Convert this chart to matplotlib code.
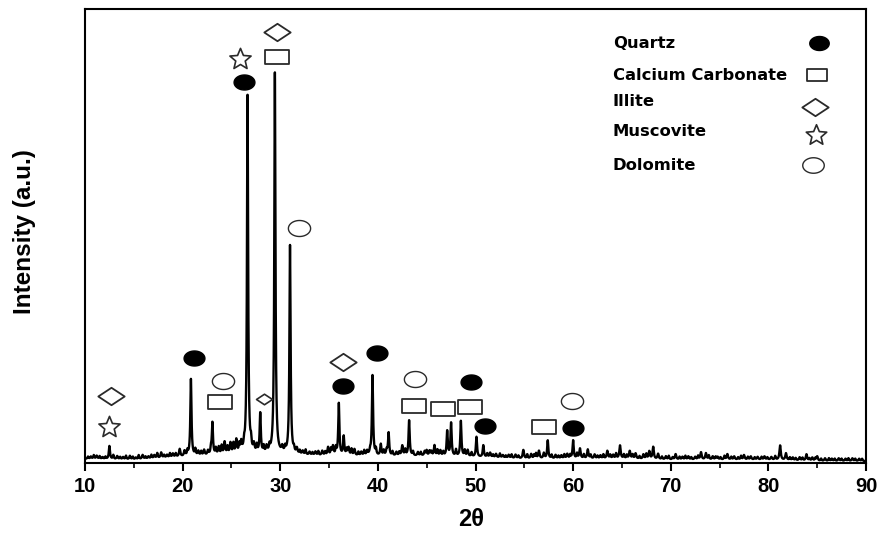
import numpy as np
import matplotlib
matplotlib.use("Agg")
import matplotlib.pyplot as plt
from matplotlib.path import Path

# ---------------- data ----------------
baseline_x = [10, 15, 20, 25, 30, 35, 40, 45, 50, 55, 60, 65, 70, 75, 80, 85, 90]
baseline_y = [0.9, 0.7, 1.3, 1.8, 1.8, 1.5, 1.5, 1.5, 1.3, 0.9, 0.9, 0.9, 0.7, 0.7, 0.7, 0.4, 0.4]

major_pos = [12.5, 20.85, 23.05, 26.65, 27.95, 29.45, 31.0, 36.0, 36.5, 39.45,
             40.3, 41.1, 43.2, 45.8, 47.1, 47.5, 48.5, 50.1, 50.8, 57.4, 60.0]
major_h = [2.9, 17.0, 7.1, 79.0, 8.8, 84.0, 46.0, 11.5, 4.2, 17.7,
           2.5, 5.0, 7.8, 2.3, 5.5, 7.3, 7.8, 4.4, 2.6, 4.0, 4.0]

minor_pos = [10.6, 11.2, 11.8, 13.3, 13.9, 14.6, 15.2, 15.9, 16.5, 17.1, 17.8, 18.4, 19.0,
             19.7, 20.2, 21.6, 22.2, 22.6, 23.7, 24.3, 24.9, 25.5, 26.0, 27.3, 28.6, 30.2,
             31.7, 32.3, 33.0, 33.6, 34.3, 34.9, 35.4, 37.0, 37.6, 38.3, 38.9, 40.9, 41.9,
             42.5, 44.1, 44.8, 45.3, 46.4, 49.2, 51.5, 52.1, 52.8, 53.4, 54.1, 54.9, 55.7,
             56.5, 57.0, 58.2, 58.8, 59.4, 60.7, 61.5, 62.2, 62.8, 63.5, 64.1, 64.8, 65.8,
             66.4, 67.2, 67.8, 68.2, 68.7, 69.5, 70.5, 71.2, 71.8, 72.5, 73.1, 73.6, 74.3,
             74.8, 75.8, 76.5, 77.5, 78.2, 78.9, 79.6, 80.3, 81.2, 81.8, 82.5, 83.2, 83.9,
             84.5, 85.0, 85.8, 86.5, 87.2, 87.9, 88.6, 89.3]
minor_h = [0.5, 0.7, 0.4, 0.7, 0.5, 0.8, 0.4, 0.9, 0.5, 0.7, 1.2, 0.6, 0.8,
           1.7, 1.2, 1.0, 1.2, 1.0, 1.7, 2.7, 2.4, 3.0, 2.2, 1.7, 1.4, 1.2,
           1.2, 0.8, 0.7, 0.8, 1.0, 1.8, 2.0, 1.7, 1.4, 0.8, 1.0, 1.2, 0.8,
           2.2, 0.8, 1.0, 1.1, 1.2, 1.4, 1.0, 0.8, 0.6, 0.7, 0.8, 1.9, 1.0,
           1.7, 1.2, 0.8, 0.7, 1.0, 2.2, 2.0, 0.9, 0.7, 1.7, 0.8, 2.9, 1.7,
           1.2, 1.0, 1.7, 2.7, 1.2, 0.7, 1.2, 0.6, 0.7, 0.6, 1.6, 1.4, 0.7,
           0.6, 1.2, 0.7, 1.0, 0.7, 0.6, 0.7, 0.6, 3.2, 1.5, 0.6, 0.7, 1.4,
           0.7, 1.0, 0.6, 0.5, 0.6, 0.5, 0.6, 0.5]

# small wiggles of the noisy background
wiggle_pos = [10.3, 10.9, 11.5, 12.1, 12.9, 13.6, 14.2, 14.9, 15.5, 16.2, 16.8, 17.4, 18.1,
              18.7, 19.3, 20.5, 21.3, 21.9, 22.9, 23.4, 24.0, 24.6, 25.2, 25.8, 26.3, 27.0,
              27.6, 28.3, 28.9, 30.5, 31.4, 32.0, 32.6, 33.3, 33.9, 34.6, 35.2, 35.7, 36.8,
              37.3, 38.0, 38.6, 39.2, 39.8, 40.6, 41.5, 42.2, 42.8, 43.6, 44.4, 45.0, 45.5,
              46.1, 46.7, 48.0, 48.9, 49.6, 51.2, 51.8, 52.5, 53.1, 53.7, 54.4, 55.3, 56.0,
              56.2, 57.8, 58.5, 59.1, 59.7, 60.4, 61.1, 61.8, 62.5, 63.1, 63.8, 64.4, 65.2,
              65.5, 66.1, 66.8, 67.5, 69.1, 69.8, 70.2, 70.9, 71.5, 72.1, 72.8, 73.9, 74.6,
              75.1, 75.5, 76.2, 76.9, 77.2, 77.9, 78.6, 79.3, 79.9, 80.7, 82.2, 82.8, 83.5,
              84.2, 84.8, 85.4, 86.2, 86.8, 87.5, 88.2, 88.9, 89.6]
wiggle_h = [0.5, 0.8, 0.6, 0.5, 0.9, 0.5, 0.8, 0.6, 0.9, 0.5, 0.8, 1.1, 0.6,
            0.9, 0.8, 1.1, 1.4, 0.9, 1.3, 1.4, 1.9, 1.6, 2.2, 1.8, 1.4, 1.9,
            1.6, 1.4, 1.3, 1.1, 0.9, 0.8, 1.1, 0.6, 0.9, 0.8, 1.4, 1.6, 1.3,
            1.4, 0.8, 1.1, 0.9, 1.3, 1.1, 0.9, 0.8, 1.3, 0.9, 0.8, 1.1, 0.9,
            1.3, 0.9, 1.4, 1.3, 0.9, 0.8, 0.6, 0.9, 0.5, 0.8, 0.6, 0.9, 0.8,
            1.1, 0.8, 0.6, 0.9, 0.8, 1.1, 0.9, 0.8, 0.6, 0.9, 0.8, 1.1, 0.9,
            0.8, 0.9, 0.6, 1.1, 0.6, 0.8, 0.5, 0.6, 0.8, 0.5, 0.8, 0.9, 0.6,
            0.5, 0.8, 0.6, 0.5, 0.8, 0.6, 0.5, 0.6, 0.5, 0.8, 0.6, 0.5, 0.6,
            0.5, 0.6, 0.5, 0.6, 0.5, 0.5, 0.6, 0.5, 0.5]

quartz_x = [21.17, 26.29, 36.43, 39.91, 49.54, 50.97, 59.99]
quartz_y = [23.1, 83.9, 17.0, 24.2, 17.8, 8.2, 7.7]
calcite_x = [23.83, 29.67, 43.70, 46.67, 49.44, 57.02]
calcite_y = [13.4, 89.4, 12.6, 11.9, 12.3, 7.9]
illite_x = [12.66, 29.67, 36.43]
illite_y = [14.8, 94.9, 22.3]
illite_minor_x = [28.34]
illite_minor_y = [14.1]
muscovite_x = [12.46, 25.88]
muscovite_y = [7.9, 89.0]
dolomite_x = [24.14, 31.92, 43.80, 59.89]
dolomite_y = [18.1, 51.8, 18.5, 13.7]

legend_labels = ["Quartz", "Calcium Carbonate", "Illite", "Muscovite", "Dolomite"]
xticks = [10, 20, 30, 40, 50, 60, 70, 80, 90]

# ---------------- profile ----------------
x = np.arange(10, 90.001, 0.01)
y = np.interp(x, baseline_x, baseline_y)
for p, h in zip(major_pos, major_h):
    y += h / (1 + ((x - p) / 0.07) ** 2)
for p, h in zip(minor_pos, minor_h):
    y += h / (1 + ((x - p) / 0.08) ** 2)
for p, h in zip(wiggle_pos, wiggle_h):
    y += h / (1 + ((x - p) / 0.06) ** 2)

# ---------------- markers ----------------
t = np.linspace(0, 2 * np.pi, 60)
ellipse = Path(np.column_stack([np.cos(t), 0.72 * np.sin(t)]), closed=True)
rect = Path([(-1, -0.62), (1, -0.62), (1, 0.62), (-1, 0.62), (-1, -0.62)], closed=True)
diamond = Path([(0, 0.66), (1, 0), (0, -0.66), (-1, 0), (0, 0.66)], closed=True)
star = Path.unit_regular_star(5, 0.45)

fig = plt.figure(figsize=(8.83, 5.36), dpi=100)
ax = fig.add_axes([85 / 883, 73 / 536, 781 / 883, 454 / 536])
ax.plot(x, y, color="black", lw=1.7, zorder=3)

ec = "#2a2a2a"
ax.plot(quartz_x, quartz_y, ls="none", marker=ellipse, ms=15, mfc="black", mec="black", zorder=4)
ax.plot(calcite_x, calcite_y, ls="none", marker=rect, ms=17, mfc="white", mec=ec, mew=1.3, zorder=4)
ax.plot(illite_x, illite_y, ls="none", marker=diamond, ms=19, mfc="white", mec=ec, mew=1.3, zorder=4)
ax.plot(illite_minor_x, illite_minor_y, ls="none", marker=diamond, ms=11.5, mfc="white", mec=ec, mew=1.2, zorder=4)
ax.plot(muscovite_x, muscovite_y, ls="none", marker=star, ms=16, mfc="white", mec=ec, mew=1.2, zorder=4)
ax.plot(dolomite_x, dolomite_y, ls="none", marker=ellipse, ms=16, mfc="white", mec=ec, mew=1.0, zorder=4)

# legend (manual)
leg_text_x = (613 - 85) / 781
leg_rows_py = [43, 75, 102, 132, 166]
leg_mark_px = [819, 817, 815, 816, 813]
leg_mark_py = [43, 75, 107, 135, 165]
for lab, py in zip(legend_labels, leg_rows_py):
    ax.text(leg_text_x, (463 - py) / 454, lab, transform=ax.transAxes,
            ha="left", va="center", fontsize=11.8, fontweight="bold",
            family="DejaVu Sans")
styles = [dict(marker=ellipse, ms=14, mfc="black", mec="black"),
          dict(marker=rect, ms=14.5, mfc="white", mec=ec, mew=1.3),
          dict(marker=diamond, ms=19, mfc="white", mec=ec, mew=1.3),
          dict(marker=star, ms=15.5, mfc="white", mec=ec, mew=1.2),
          dict(marker=ellipse, ms=15.5, mfc="white", mec=ec, mew=1.0)]
for px, py, st in zip(leg_mark_px, leg_mark_py, styles):
    ax.plot([(px - 85) / 781], [(463 - py) / 454], ls="none", transform=ax.transAxes,
            clip_on=False, **st)

ax.set_xlim(10, 90)
ax.set_ylim(0, 100)
ax.set_xticks(xticks)
ax.set_xticks(np.arange(15, 90, 10), minor=True)
ax.set_yticks([])
ax.tick_params(axis="x", which="major", direction="out", length=6, width=1.5, pad=4)
ax.tick_params(axis="x", which="minor", direction="out", length=3.5, width=1.2)
for lab in ax.get_xticklabels():
    lab.set_fontsize(14.5)
    lab.set_fontweight("bold")
    lab.set_family("Liberation Sans")
for s in ax.spines.values():
    s.set_linewidth(1.5)

fig.text(471 / 883, 1 - 519 / 536, "2θ", ha="center", va="center",
         fontsize=17, fontweight="bold", family="Liberation Sans")
fig.text(25 / 883, 1 - 232 / 536, "Intensity (a.u.)", ha="center", va="center",
         rotation=90, fontsize=17.5, fontweight="bold", family="Liberation Sans")

fig.savefig("out.png", dpi=100)
